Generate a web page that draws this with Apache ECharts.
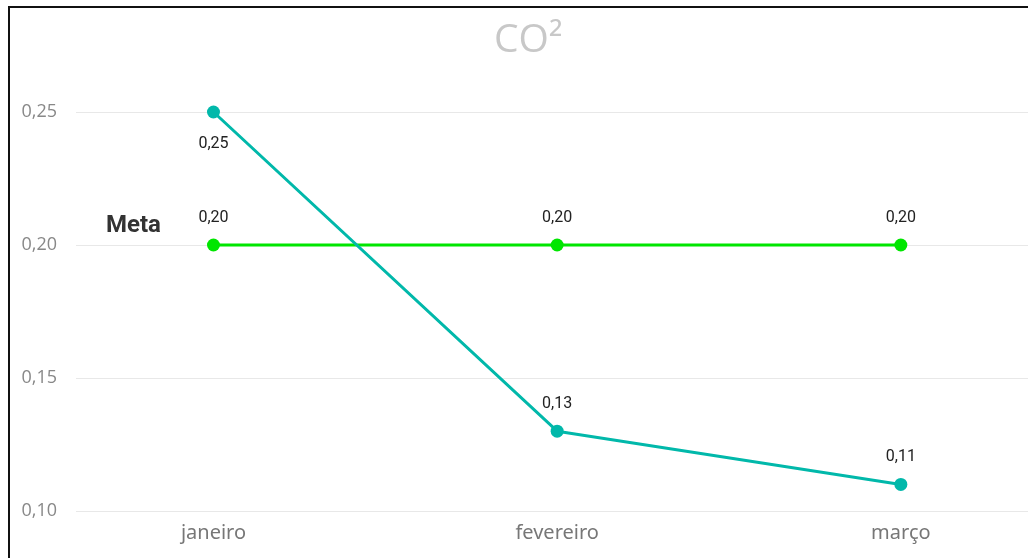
<!DOCTYPE html>
<html><head><meta charset="utf-8">
<script src="https://cdn.jsdelivr.net/npm/echarts@6/dist/echarts.min.js"></script>
<style>
html,body{margin:0;padding:0;background:#fff;}
#frame{position:absolute;left:8px;top:6px;width:1020px;height:552px;border-left:2px solid #111;border-top:2px solid #111;box-sizing:border-box;}
#c{position:absolute;left:0;top:0;width:1028px;height:558px;}
</style></head>
<body>
<div id="c"></div>
<div id="frame"></div>
<script>
const categories = ['janeiro', 'fevereiro', 'março'];
const co2Values = [0.25, 0.13, 0.11];
const metaValues = [0.20, 0.20, 0.20];
const yTicks = [0.10, 0.15, 0.20, 0.25];

const fmt = v => v.toFixed(2).replace('.', ',');
const chart = echarts.init(document.getElementById('c'));
chart.setOption({
  animation: false,
  title: {
    text: 'CO²', left: 489, top: 16,
    textStyle: {color: '#c8c8c8', fontSize: 39, fontWeight: 'normal', fontFamily: 'Open Sans'}
  },
  grid: {left: 76, right: 0, top: 112, bottom: 47, containLabel: false},
  xAxis: {
    type: 'value', min: -0.4, max: 2.37,
    axisLine: {show: false}, axisTick: {show: false}, splitLine: {show: false},
    axisLabel: {
      customValues: [0, 1, 2], margin: 12,
      formatter: v => categories[Math.round(v)],
      color: '#777', fontSize: 20, fontFamily: 'Noto Sans'
    }
  },
  yAxis: {
    type: 'value', min: 0.10, max: 0.25, interval: 0.05,
    axisLine: {show: false}, axisTick: {show: false},
    splitLine: {lineStyle: {color: '#e8e8e8', width: 1}},
    axisLabel: {
      formatter: v => fmt(v), margin: 19,
      color: '#888', fontSize: 18, fontFamily: 'Open Sans'
    }
  },
  series: [
    {
      name: 'Meta', type: 'line',
      data: metaValues.map((v, i) => [i, v]),
      symbol: 'circle', symbolSize: 13,
      lineStyle: {color: '#00e600', width: 3},
      itemStyle: {color: '#00e600'},
      label: {show: true, position: 'top', distance: 13, formatter: p => fmt(p.value[1]),
        color: '#222', fontSize: 16, fontFamily: 'Roboto'},
      markPoint: {
        symbol: 'circle', symbolSize: 0,
        data: [{coord: [0, metaValues[0]]}],
        label: {show: true, formatter: 'Meta', offset: [-80, -19],
          color: '#333', fontSize: 24, fontWeight: 'bold', fontFamily: 'Roboto'}
      },
      z: 2
    },
    {
      name: 'CO2', type: 'line',
      data: co2Values.map((v, i) => i === 0
        ? {value: [i, v], label: {position: 'bottom', distance: 17}}
        : [i, v]),
      symbol: 'circle', symbolSize: 13,
      lineStyle: {color: '#01b8aa', width: 3},
      itemStyle: {color: '#01b8aa'},
      label: {show: true, position: 'top', distance: 13, formatter: p => fmt(p.value[1]),
        color: '#222', fontSize: 16, fontFamily: 'Roboto'},
      z: 3
    }
  ]
});
</script>
</body></html>
